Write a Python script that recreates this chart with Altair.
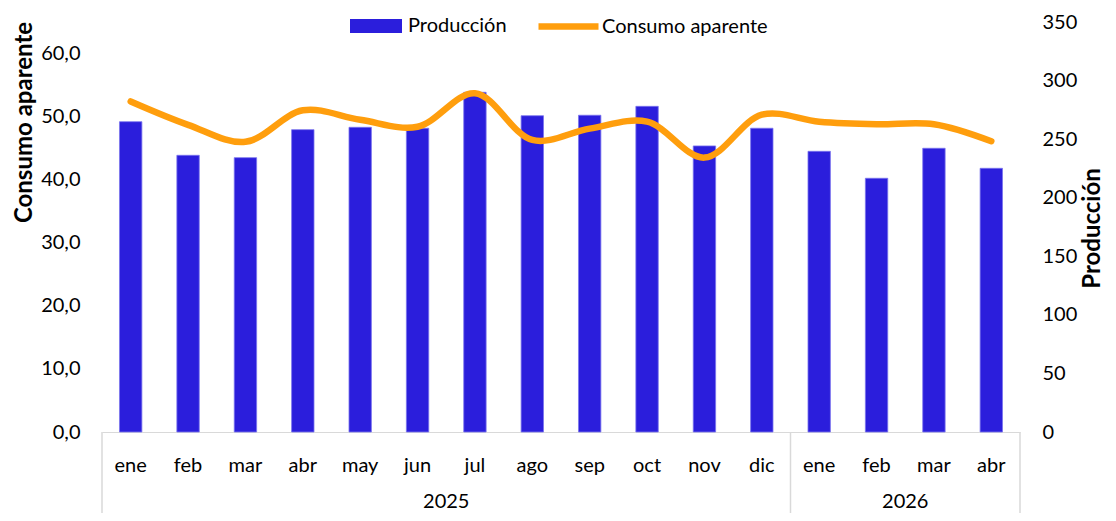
import altair as alt
import pandas as pd

meses = ["ene", "feb", "mar", "abr", "may", "jun", "jul", "ago", "sep", "oct", "nov", "dic",
         "ene", "feb", "mar", "abr"]
anios = ["2025"] * 12 + ["2026"] * 4
produccion = [264.9, 236.2, 234.2, 258.1, 260.1, 259.3, 290.0, 270.0, 270.4, 278.0,
              244.2, 259.3, 239.6, 216.6, 242.2, 225.1]
consumo = [52.4, 48.7, 46.0, 51.0, 49.5, 48.4, 53.7, 46.3, 48.1, 49.2,
           43.5, 50.3, 49.2, 48.8, 48.8, 46.1]

grupos_anio = ["2025", "2026"]
grupos_centro = ["2025-jul", "2026-mar"]   # label sits at start of this band
separadores_ini = ["2025-ene", "2026-ene"]
separadores_fin = ["2026-abr"]

claves = [a + "-" + m for a, m in zip(anios, meses)]
df = pd.DataFrame({"clave": claves, "mes": meses, "anio": anios,
                   "Producción": produccion, "Consumo aparente": consumo,
                   "s1": "Producción", "s2": "Consumo aparente"})
df_anio = pd.DataFrame({"clave": grupos_centro, "anio": grupos_anio})
df_sep1 = pd.DataFrame({"clave": separadores_ini})
df_sep2 = pd.DataFrame({"clave": separadores_fin})

FONT = "Lato"
BLUE = "#2B1EDC"
ORANGE = "#FF9E0D"
GRID = "#D9D9D9"

xscale = alt.Scale(domain=claves, paddingInner=0, paddingOuter=0)
xaxis = alt.Axis(title=None, labelExpr="split(datum.value, '-')[1]", ticks=False,
                 labelPadding=23, labelFontSize=20, labelFont=FONT, labelColor="#000000",
                 domainColor=GRID, domainWidth=1, labelAngle=0, grid=False)

bars = alt.Chart(df).mark_bar(width=alt.RelativeBandSize(0.39), stroke="#7A74EE",
                              strokeWidth=0.8).encode(
    x=alt.X("clave:N", scale=xscale, axis=xaxis, sort=claves),
    y=alt.Y("Producción:Q", scale=alt.Scale(domain=[0, 350], nice=False),
            axis=alt.Axis(orient="right", values=list(range(0, 351, 50)), title="Producción",
                          titleAngle=-90, titleX=72, titleY=206, titleAlign="center",
                          titleBaseline="middle", titleFontSize=24, titleFont=FONT,
                          titleFontWeight="bold", titleColor="#000000",
                          labelFontSize=20, labelFont=FONT, labelColor="#000000",
                          labelPadding=22, domain=False, ticks=False, grid=False)),
    fill=alt.Fill("s1:N", scale=alt.Scale(domain=["Producción"], range=[BLUE]),
                  legend=alt.Legend(title=None, orient="none", legendX=248, legendY=-22,
                                    symbolType="M-1,-0.27H1V0.27H-1Z", symbolSize=2704,
                                    symbolStrokeWidth=0, labelFontSize=20, labelFont=FONT,
                                    labelColor="#000000", labelOffset=6, labelLimit=400)),
)

line = alt.Chart(df).mark_line(strokeWidth=6.5, interpolate="catmull-rom", strokeCap="round",
                               strokeJoin="round").encode(
    x=alt.X("clave:N", scale=xscale, axis=xaxis, sort=claves),
    y=alt.Y("Consumo aparente:Q", scale=alt.Scale(domain=[0, 65], nice=False),
            axis=alt.Axis(orient="left", values=list(range(0, 61, 10)), title="Consumo aparente",
                          labelExpr="replace(format(datum.value, '.1f'), '.', ',')",
                          titleAngle=-90, titleX=-78, titleY=100, titleAlign="center",
                          titleBaseline="middle", titleFontSize=24, titleFont=FONT,
                          titleFontWeight="bold", titleColor="#000000",
                          labelFontSize=20, labelFont=FONT, labelColor="#000000",
                          labelPadding=22, domain=False, ticks=False, grid=False)),
    stroke=alt.Stroke("s2:N", scale=alt.Scale(domain=["Consumo aparente"], range=[ORANGE]),
                      legend=alt.Legend(title=None, orient="none", legendX=433, legendY=-29,
                                        symbolType="stroke", symbolSize=3600,
                                        symbolStrokeWidth=6.5, labelFontSize=20, labelFont=FONT,
                                        labelColor="#000000", labelOffset=0, labelLimit=400)),
)

sep1 = alt.Chart(df_sep1).mark_rule(color=GRID, strokeWidth=1.5).encode(
    x=alt.X("clave:N", scale=xscale, sort=claves, bandPosition=0, axis=xaxis),
    y=alt.value(410), y2=alt.value(491))
sep2 = alt.Chart(df_sep2).mark_rule(color=GRID, strokeWidth=1.5).encode(
    x=alt.X("clave:N", scale=xscale, sort=claves, bandPosition=1, axis=xaxis),
    y=alt.value(410), y2=alt.value(491))
anio_txt = alt.Chart(df_anio).mark_text(fontSize=20, font=FONT, color="#000000",
                                        baseline="middle", align="center").encode(
    x=alt.X("clave:N", scale=xscale, sort=claves, bandPosition=0, axis=xaxis),
    y=alt.value(480), text="anio:N")

chart = alt.layer(bars, line, sep1, sep2, anio_txt).resolve_scale(
    y="independent", fill="independent", stroke="independent"
).properties(
    width=918, height=410,
    autosize=alt.AutoSizeParams(type="none"),
    padding={"left": 94, "top": 14, "right": 86, "bottom": 81},
    background="#FFFFFF",
).configure_view(stroke=None)

chart.save("out.html", embed_options={"renderer": "svg", "actions": False})
